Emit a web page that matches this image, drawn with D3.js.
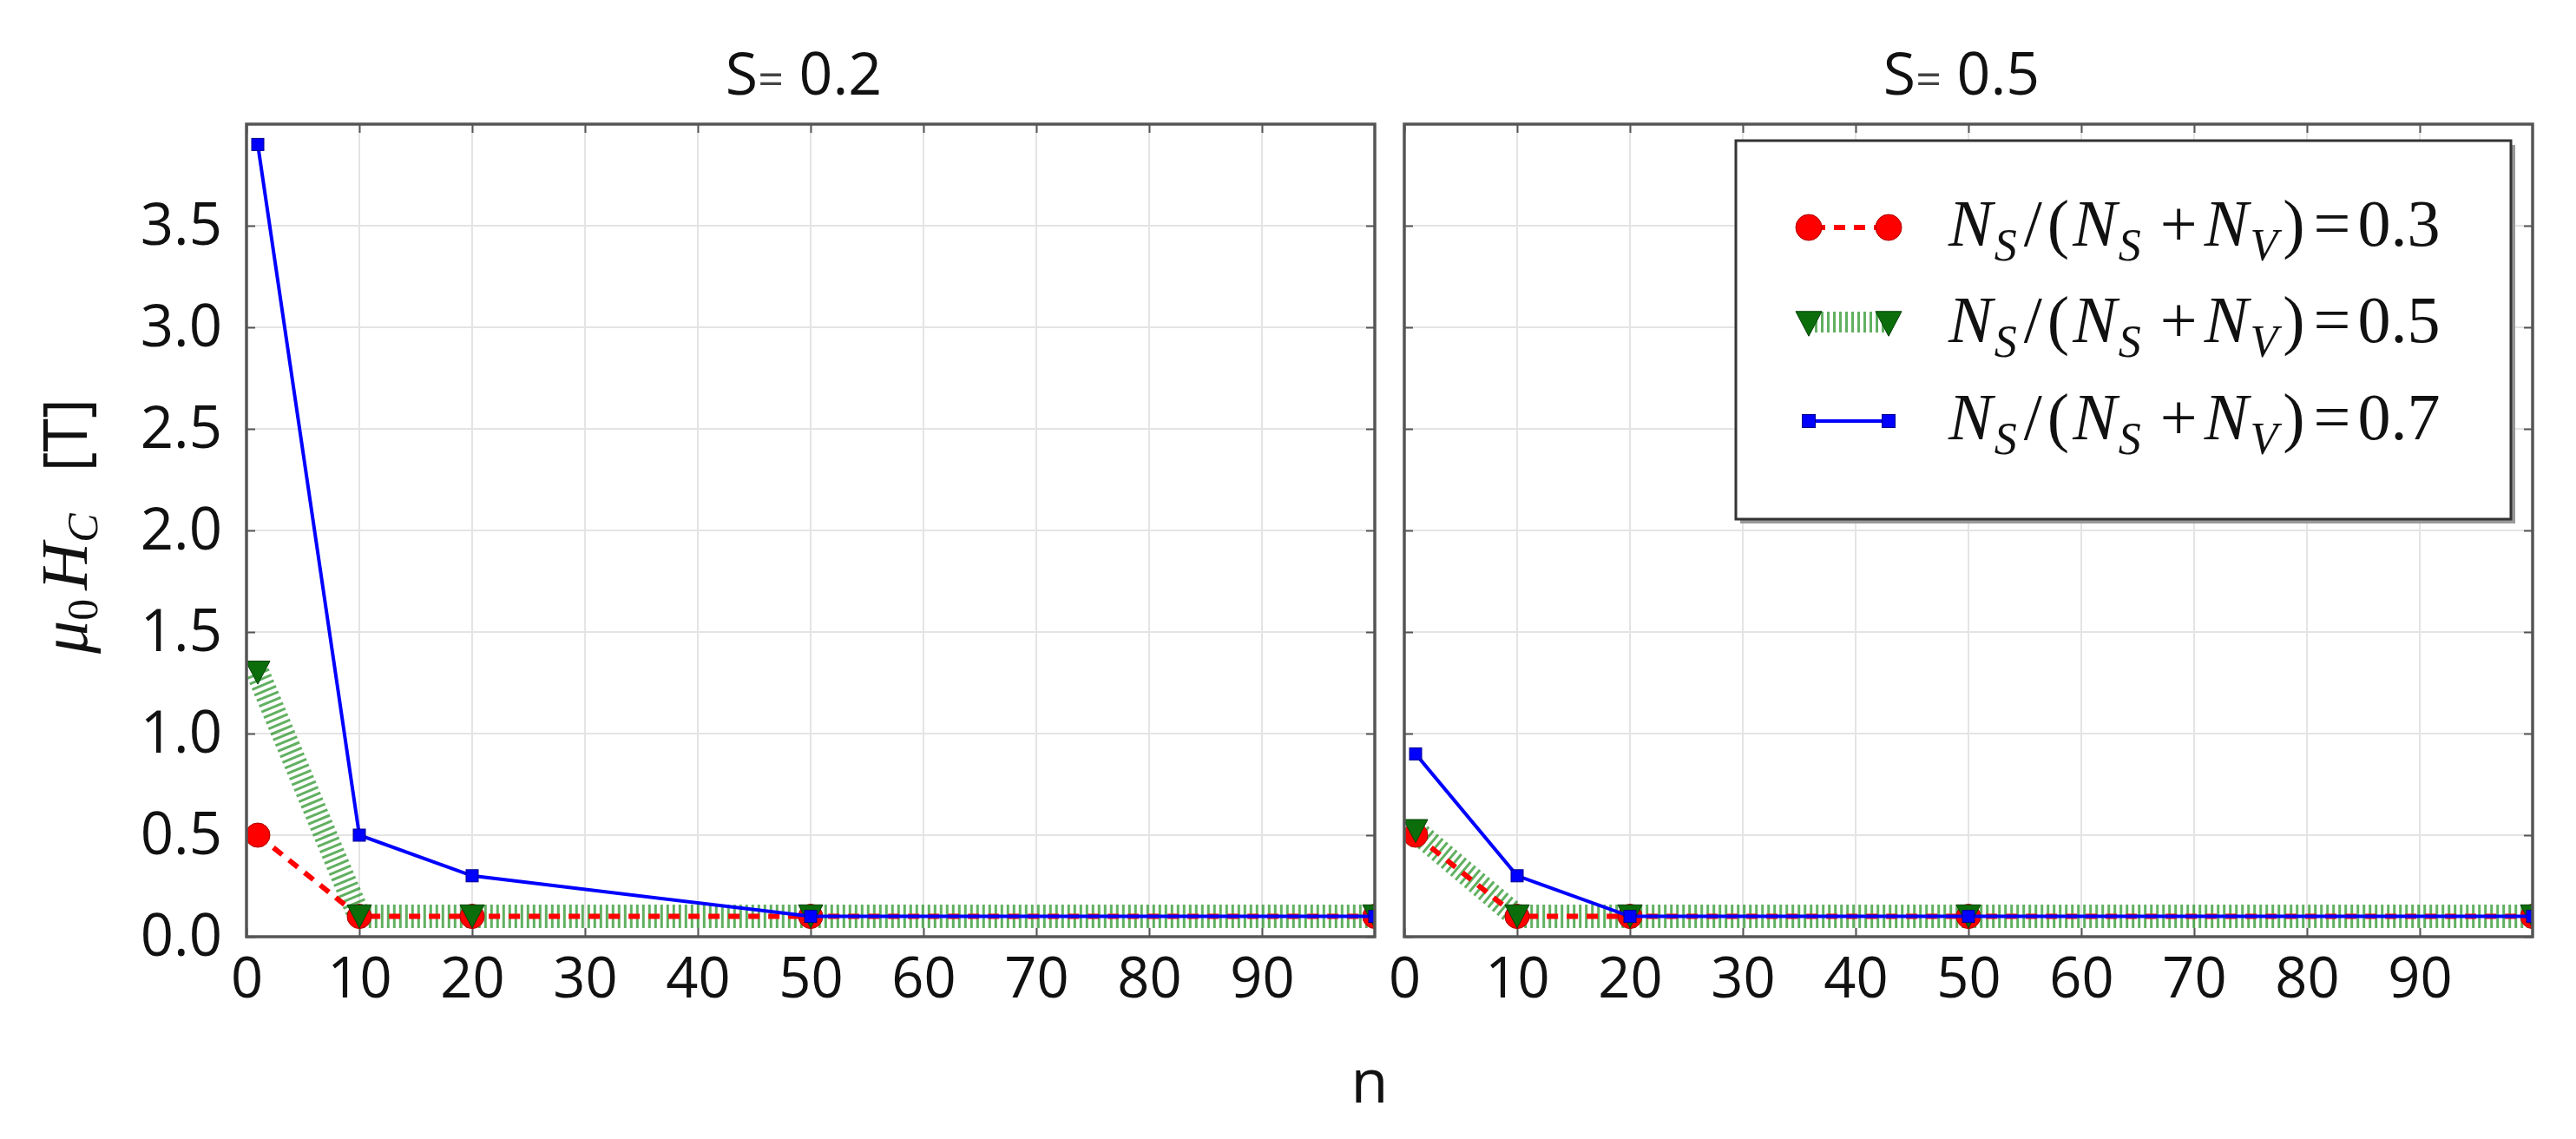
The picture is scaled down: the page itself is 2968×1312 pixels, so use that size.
<!DOCTYPE html>
<html>
<head>
<meta charset="utf-8">
<script src="https://cdn.jsdelivr.net/npm/d3@7"></script>
<style>
  html, body { margin: 0; padding: 0; background: #fff; }
  svg { display: block; }
</style>
</head>
<body>
<script>
// ---------------- DATA ----------------
const nValues = [1, 10, 20, 50, 100];
const panelTitles = ["0.2", "0.5"];           // S values
const ratioLabels = ["0.3", "0.5", "0.7"];    // N_S/(N_S+N_V)
const xTicks = [0, 10, 20, 30, 40, 50, 60, 70, 80, 90];
const yTicks = [0, 0.5, 1.0, 1.5, 2.0, 2.5, 3.0, 3.5];

// S = 0.2
const s02_r03 = [0.5, 0.1, 0.1, 0.1, 0.1];
const s02_r05 = [1.3, 0.1, 0.1, 0.1, 0.1];
const s02_r07 = [3.9, 0.5, 0.3, 0.1, 0.1];
// S = 0.5
const s05_r03 = [0.5, 0.1, 0.1, 0.1, 0.1];
const s05_r05 = [0.52, 0.1, 0.1, 0.1, 0.1];
const s05_r07 = [0.9, 0.3, 0.1, 0.1, 0.1];

// ---------------- LAYOUT ----------------
const W = 2968, H = 1312;
const plotTop = 143, plotBottom = 1079;
const panels = [
  { title: panelTitles[0], x0: 284, x1: 1584, series: [s02_r03, s02_r05, s02_r07], yLabels: true },
  { title: panelTitles[1], x0: 1618, x1: 2918, series: [s05_r03, s05_r05, s05_r07], yLabels: false }
];
const RED = "#ff0000", GREEN = "#0b6e0b", GREENLINE = "#008000", BLUE = "#0000ff";
const FRAME = "#555";

const svg = d3.select("body").append("svg")
  .attr("width", W).attr("height", H)
  .attr("viewBox", `0 0 ${W} ${H}`);
svg.append("rect").attr("width", W).attr("height", H).attr("fill", "#fff");

const y = d3.scaleLinear().domain([0, 4]).range([plotBottom, plotTop]);

const defs = svg.append("defs");

function triPath(s) {
  const h = s * 0.95;
  return `M${-s/2},${-h/2}L${s/2},${-h/2}L0,${h/2}Z`;
}

panels.forEach((p, i) => {
  const x = d3.scaleLinear().domain([0, 100]).range([p.x0, p.x1]);
  const g = svg.append("g");

  // grid
  g.selectAll(".gx").data(xTicks.filter(t => t > 0)).join("line")
    .attr("x1", d => x(d)).attr("x2", d => x(d))
    .attr("y1", plotTop).attr("y2", plotBottom)
    .attr("stroke", "#e4e4e4").attr("stroke-width", 2);
  g.selectAll(".gy").data(yTicks.filter(t => t > 0)).join("line")
    .attr("x1", p.x0).attr("x2", p.x1)
    .attr("y1", d => y(d)).attr("y2", d => y(d))
    .attr("stroke", "#e4e4e4").attr("stroke-width", 2);

  // axes (ticks inward)
  const ax = g.append("g").attr("transform", `translate(0,${plotBottom})`)
    .call(d3.axisBottom(x).tickValues(xTicks).tickSizeInner(-10).tickSizeOuter(0).tickPadding(24).tickFormat(d3.format("d")));
  ax.select(".domain").remove();
  ax.selectAll("line").attr("stroke", FRAME).attr("stroke-width", 2);
  ax.selectAll("text").attr("font-family", "'Open Sans'").attr("font-size", 65).attr("fill", "#111");

  const axT = g.append("g").attr("transform", `translate(0,${plotTop})`)
    .call(d3.axisTop(x).tickValues(xTicks).tickSizeInner(-10).tickSizeOuter(0).tickFormat(""));
  axT.select(".domain").remove();
  axT.selectAll("line").attr("stroke", FRAME).attr("stroke-width", 2);

  const ay = g.append("g").attr("transform", `translate(${p.x0},0)`)
    .call(d3.axisLeft(y).tickValues(yTicks).tickSizeInner(-10).tickSizeOuter(0).tickPadding(28)
      .tickFormat(p.yLabels ? d3.format(".1f") : ""));
  ay.select(".domain").remove();
  ay.selectAll("line").attr("stroke", FRAME).attr("stroke-width", 2);
  ay.selectAll("text").attr("font-family", "'Open Sans'").attr("font-size", 67).attr("fill", "#111");

  const ayR = g.append("g").attr("transform", `translate(${p.x1},0)`)
    .call(d3.axisRight(y).tickValues(yTicks).tickSizeInner(-10).tickSizeOuter(0).tickFormat(""));
  ayR.select(".domain").remove();
  ayR.selectAll("line").attr("stroke", FRAME).attr("stroke-width", 2);

  // clip
  const cid = "clip" + i;
  defs.append("clipPath").attr("id", cid).append("rect")
    .attr("x", p.x0).attr("y", plotTop).attr("width", p.x1 - p.x0).attr("height", plotBottom - plotTop);
  const plot = g.append("g").attr("clip-path", `url(#${cid})`);

  const line = d3.line().x((d, k) => x(nValues[k])).y(d => y(d));
  const [r03, r05, r07] = p.series;

  // green hatched line
  plot.append("path").attr("d", line(r05)).attr("fill", "none")
    .attr("stroke", GREENLINE).attr("stroke-opacity", 0.62)
    .attr("stroke-width", 27).attr("stroke-dasharray", "3,4");
  // red dashed line
  plot.append("path").attr("d", line(r03)).attr("fill", "none")
    .attr("stroke", RED).attr("stroke-width", 6).attr("stroke-dasharray", "13,10");
  // red circles
  plot.selectAll(".rc").data(r03).join("circle")
    .attr("cx", (d, k) => x(nValues[k])).attr("cy", d => y(d)).attr("r", 14)
    .attr("fill", RED).attr("stroke", "#a00").attr("stroke-width", 1);
  // green triangles
  plot.selectAll(".gt").data(r05).join("path")
    .attr("transform", (d, k) => `translate(${x(nValues[k])},${y(d)})`)
    .attr("d", triPath(28)).attr("fill", GREEN).attr("stroke", "#064006").attr("stroke-width", 1);
  // blue line
  plot.append("path").attr("d", line(r07)).attr("fill", "none")
    .attr("stroke", BLUE).attr("stroke-width", 4);
  plot.selectAll(".bs").data(r07).join("rect")
    .attr("x", (d, k) => x(nValues[k]) - 7).attr("y", d => y(d) - 7)
    .attr("width", 14).attr("height", 14).attr("fill", BLUE).attr("stroke", "#00008b").attr("stroke-width", 1);

  // frame
  g.append("rect").attr("x", p.x0).attr("y", plotTop)
    .attr("width", p.x1 - p.x0).attr("height", plotBottom - plotTop)
    .attr("fill", "none").attr("stroke", FRAME).attr("stroke-width", 3.5);

  // title
  const t = svg.append("text")
    .attr("x", (p.x0 + p.x1) / 2 - 8).attr("y", 109)
    .attr("text-anchor", "middle")
    .attr("font-family", "'Open Sans'").attr("font-size", 68).attr("fill", "#111");
  t.append("tspan").text("S");
  t.append("tspan").attr("font-size", 52).attr("fill", "#444").text("=");
  t.append("tspan").text(" " + p.title);
});

// ---------------- Y LABEL ----------------
const yl = svg.append("text")
  .attr("transform", "translate(100,606) rotate(-90)")
  .attr("text-anchor", "middle")
  .attr("font-family", "'Liberation Serif', serif").attr("font-size", 76).attr("fill", "#111");
yl.append("tspan").attr("font-style", "italic").text("μ");
yl.append("tspan").attr("font-size", 50).attr("dy", 12).text("0");
yl.append("tspan").attr("font-style", "italic").attr("dy", -12).attr("dx", 10).text("H");
yl.append("tspan").attr("font-style", "italic").attr("font-size", 50).attr("dy", 12).text("C");
yl.append("tspan").attr("font-family", "'Open Sans'").attr("font-size", 70).attr("dy", -12).attr("dx", 48).text("[T]");

// ---------------- X LABEL ----------------
svg.append("text").attr("x", 1578).attr("y", 1270).attr("text-anchor", "middle")
  .attr("font-family", "'Open Sans'").attr("font-size", 70).attr("fill", "#111").text("n");

// ---------------- LEGEND ----------------
const lg = svg.append("g");
const LX0 = 2000, LY0 = 162, LX1 = 2893, LY1 = 598;
lg.append("rect").attr("x", LX0 + 5).attr("y", LY0 + 5).attr("width", LX1 - LX0).attr("height", LY1 - LY0)
  .attr("fill", "#999");
lg.append("rect").attr("x", LX0).attr("y", LY0).attr("width", LX1 - LX0).attr("height", LY1 - LY0)
  .attr("fill", "#fff").attr("stroke", "#333").attr("stroke-width", 3);

const rowY = [262, 373, 485];
const mA = 2084, mB = 2176;
// red
lg.append("line").attr("x1", mA).attr("x2", mB).attr("y1", rowY[0]).attr("y2", rowY[0])
  .attr("stroke", RED).attr("stroke-width", 6).attr("stroke-dasharray", "13,10").attr("stroke-dashoffset", -6);
[mA, mB].forEach(cx => lg.append("circle").attr("cx", cx).attr("cy", rowY[0]).attr("r", 15)
  .attr("fill", RED).attr("stroke", "#a00").attr("stroke-width", 1));
// green
lg.append("line").attr("x1", mA).attr("x2", mB).attr("y1", rowY[1] - 2).attr("y2", rowY[1] - 2)
  .attr("stroke", GREENLINE).attr("stroke-opacity", 0.62).attr("stroke-width", 24).attr("stroke-dasharray", "3,4");
[mA, mB].forEach(cx => lg.append("path").attr("transform", `translate(${cx},${rowY[1]})`)
  .attr("d", triPath(30)).attr("fill", GREEN).attr("stroke", "#064006").attr("stroke-width", 1));
// blue
lg.append("line").attr("x1", mA).attr("x2", mB).attr("y1", rowY[2]).attr("y2", rowY[2])
  .attr("stroke", BLUE).attr("stroke-width", 4);
[mA, mB].forEach(cx => lg.append("rect").attr("x", cx - 7.5).attr("y", rowY[2] - 7.5)
  .attr("width", 15).attr("height", 15).attr("fill", BLUE).attr("stroke", "#00008b").attr("stroke-width", 1));

ratioLabels.forEach((r, k) => {
  const t = lg.append("text").attr("x", 2245).attr("y", rowY[k] + 21)
    .attr("font-family", "'Liberation Serif', serif").attr("font-size", 76).attr("fill", "#111");
  const sub = (txt) => t.append("tspan").attr("font-style", "italic").attr("font-size", 52).attr("dy", 17).attr("dx", 2).text(txt);
  t.append("tspan").attr("font-style", "italic").text("N");
  sub("S");
  t.append("tspan").attr("dy", -17).attr("dx", 8).text("/");
  t.append("tspan").attr("dx", 6).text("(");
  t.append("tspan").attr("font-style", "italic").attr("dx", 4).text("N");
  sub("S");
  t.append("tspan").attr("dy", -17).attr("dx", 22).text("+");
  t.append("tspan").attr("font-style", "italic").attr("dx", 8).text("N");
  sub("V");
  t.append("tspan").attr("dy", -17).attr("dx", 6).text(")");
  t.append("tspan").attr("dx", 10).text("=");
  t.append("tspan").attr("dx", 8).text(r);
});
</script>
</body>
</html>
